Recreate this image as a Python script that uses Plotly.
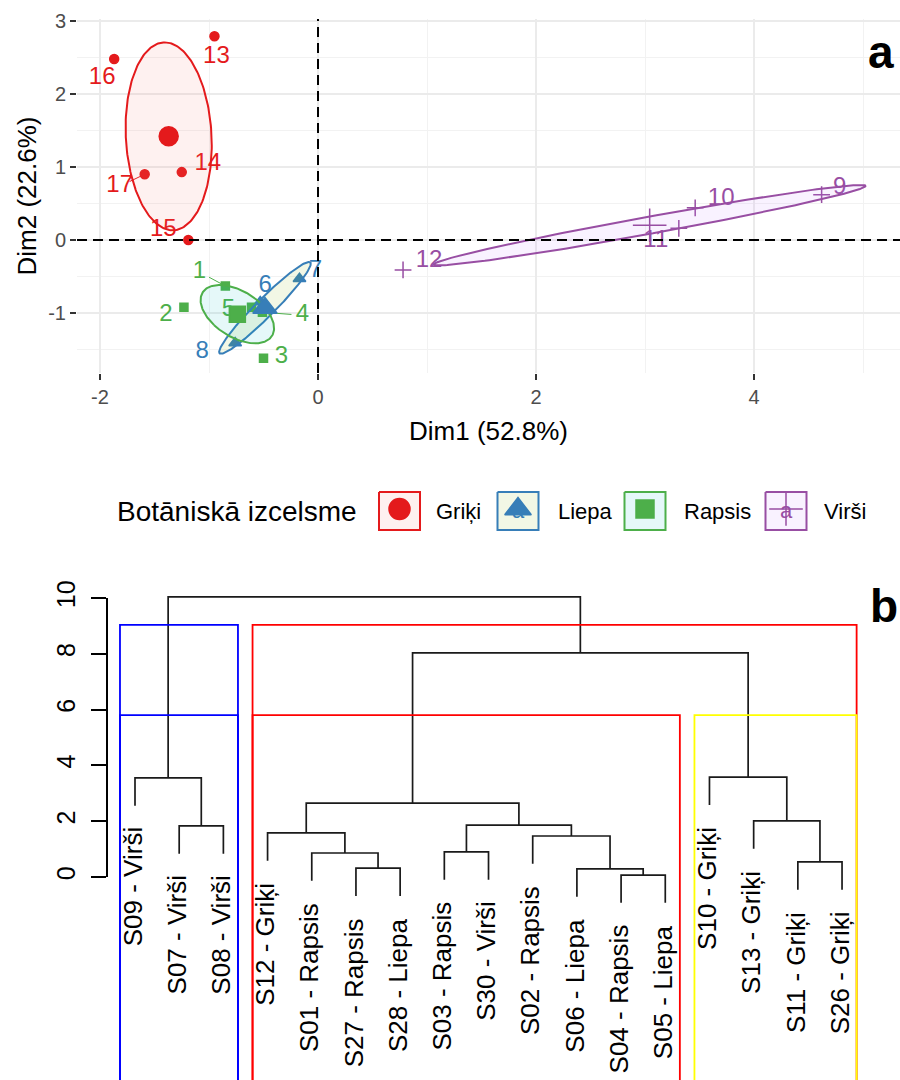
import numpy as np
import plotly.graph_objects as go

# ---------------- PCA individuals (panel a) ----------------
groups = ["Griķi", "Liepa", "Rapsis", "Virši"]
ids = {
    "Rapsis": [1, 2, 3, 4, 5],
    "Liepa": [6, 7, 8],
    "Virši": [9, 10, 11, 12],
    "Griķi": [13, 14, 15, 16, 17],
}
dim1 = {
    "Rapsis": [-0.85, -1.23, -0.50, -0.51, -0.61],
    "Liepa": [-0.53, -0.17, -0.76],
    "Virši": [4.62, 3.46, 3.31, 0.78],
    "Griķi": [-0.95, -1.25, -1.19, -1.87, -1.59],
}
dim2 = {
    "Rapsis": [-0.63, -0.92, -1.62, -0.99, -0.92],
    "Liepa": [-0.85, -0.53, -1.41],
    "Virši": [0.62, 0.44, 0.16, -0.41],
    "Griķi": [2.79, 0.93, 0.00, 2.48, 0.90],
}
dim_titles = ["Dim1 (52.8%)", "Dim2 (22.6%)"]
x_ticks = [-2, 0, 2, 4]
y_ticks = [-1, 0, 1, 2, 3]
legend_title = "Botāniskā izcelsme"

# ---------------- Dendrogram (panel b) ----------------
leaf_labels = [
    "S09 - Virši", "S07 - Virši", "S08 - Virši", "S12 - Griķi", "S01 - Rapsis",
    "S27 - Rapsis", "S28 - Liepa", "S03 - Rapsis", "S30 - Virši", "S02 - Rapsis",
    "S06 - Liepa", "S04 - Rapsis", "S05 - Liepa", "S10 - Griķi", "S13 - Griķi",
    "S11 - Griķi", "S26 - Griķi",
]
# hclust-style merges: negative = leaf position (1-based), positive = earlier merge
merge_a = [-12, -11, -6, -16, -5, -8, -10, -4, -2, 6, -15, 8, -1, -14, 12, 13]
merge_b = [-13, 1, -7, -17, 3, -9, 2, 5, -3, 7, 4, 10, 9, 11, 14, 15]
merge_h = [0.07, 0.29, 0.32, 0.54, 0.86, 0.90, 1.47, 1.58, 1.83, 1.86, 2.01,
           2.65, 3.55, 3.58, 8.03, 10.04]
dend_ticks = [0, 2, 4, 6, 8, 10]
rect_k = [2, 3]
rect_colors = {2: ["#0000FF", "#FF0000"], 3: ["#0000FF", "#FF0000", "#FFFF00"]}

# ---------------- styling ----------------
W, H = 900, 1080
FONT = "Liberation Sans, Arial, sans-serif"
col = {"Griķi": "#E41A1C", "Liepa": "#377EB8", "Rapsis": "#4DAF4A", "Virši": "#984EA3"}
fill = {"Griķi": "rgba(248,118,109,0.10)", "Liepa": "rgba(124,174,0,0.10)",
        "Rapsis": "rgba(0,191,196,0.10)", "Virši": "rgba(199,124,255,0.10)"}
sym = {"Griķi": "circle", "Liepa": "triangle-up", "Rapsis": "square", "Virši": "cross-thin"}
pt_size = {"Griķi": 9, "Liepa": 11, "Rapsis": 8, "Virši": 12}
mean_size = {"Griķi": 19, "Liepa": 21, "Rapsis": 16, "Virši": 24}
key_size = {"Griķi": 21, "Liepa": 23, "Rapsis": 18, "Virši": 24}
# label offsets in pixels (dx right, dy down) for the repelled point labels
lab_off = {1: (-26, -14), 2: (-18, 8), 3: (18, -1), 4: (40, 3), 5: (-23, 3),
           6: (5, -16), 7: (16, -8), 8: (-33, 9), 9: (18, -7), 10: (26, -9),
           11: (-23, 13), 12: (26, -9), 13: (2, 21), 14: (26, -8), 15: (-25, -10),
           16: (-12, 19), 17: (-25, 12)}
leader_ids = [1, 4, 17]

xa_dom = [77 / W, 1.0]
ya_dom = [1 - 373 / H, 1 - 19 / H]
xa_rng = [-2.211, 5.339]
ya_rng = [-1.822, 3.027]
ppx = (xa_dom[1] - xa_dom[0]) * W / (xa_rng[1] - xa_rng[0])
ppy = (ya_dom[1] - ya_dom[0]) * H / (ya_rng[1] - ya_rng[0])

fig = go.Figure()


def conf_ellipse(x, y, n_pts=200):
    x = np.asarray(x, float)
    y = np.asarray(y, float)
    cov = np.cov(x, y) / len(x)
    vals, vecs = np.linalg.eigh(cov)
    r = np.sqrt(5.991465)
    t = np.linspace(0, 2 * np.pi, n_pts)
    circ = np.vstack([np.cos(t), np.sin(t)])
    pts = vecs @ (np.sqrt(np.clip(vals, 0, None))[:, None] * circ) * r
    return pts[0] + x.mean(), pts[1] + y.mean()


# individual points
for g in groups:
    fig.add_trace(go.Scatter(
        x=dim1[g], y=dim2[g], mode="markers", xaxis="x", yaxis="y",
        marker=dict(symbol=sym[g], size=pt_size[g], color=col[g],
                    line=dict(color=col[g], width=1.5)),
        hoverinfo="skip"))

# leader segments and labels
for g in groups:
    for i, xv, yv in zip(ids[g], dim1[g], dim2[g]):
        dx, dy = lab_off[i]
        if i in leader_ids:
            d = np.hypot(dx, dy)
            f = max(d - 11, 0) / d
            fig.add_trace(go.Scatter(
                x=[xv, xv + dx * f / ppx], y=[yv, yv - dy * f / ppy], mode="lines",
                line=dict(color=col[g], width=1), xaxis="x", yaxis="y", hoverinfo="skip"))
    fig.add_trace(go.Scatter(
        x=[xv + lab_off[i][0] / ppx for i, xv in zip(ids[g], dim1[g])],
        y=[yv - lab_off[i][1] / ppy for i, yv in zip(ids[g], dim2[g])],
        text=[str(i) for i in ids[g]], mode="text", xaxis="x", yaxis="y",
        textfont=dict(family=FONT, size=24, color=col[g]), hoverinfo="skip"))

# confidence ellipses
for g in groups:
    ex, ey = conf_ellipse(dim1[g], dim2[g])
    fig.add_trace(go.Scatter(
        x=ex, y=ey, mode="lines", fill="toself", fillcolor=fill[g],
        line=dict(color=col[g], width=2), xaxis="x", yaxis="y", hoverinfo="skip"))

# group means
for g in groups:
    fig.add_trace(go.Scatter(
        x=[np.mean(dim1[g])], y=[np.mean(dim2[g])], mode="markers", xaxis="x", yaxis="y",
        marker=dict(symbol=sym[g], size=mean_size[g], color=col[g],
                    line=dict(color=col[g], width=1.5)),
        hoverinfo="skip"))

# ---------------- dendrogram geometry ----------------
node_x, node_h = {}, {}
hang = 0.1 * (max(merge_h) - min(merge_h))
seg_x, seg_y = [], []
leaf_end = {}


def child_pos(c, parent_h):
    if c < 0:
        lx = -c
        leaf_end[lx] = parent_h - hang
        return lx, parent_h - hang
    return node_x[c], node_h[c]


for m, (a, b, h) in enumerate(zip(merge_a, merge_b, merge_h), start=1):
    xa_, ya_ = child_pos(a, h)
    xb_, yb_ = child_pos(b, h)
    seg_x += [xa_, xa_, xb_, xb_, None]
    seg_y += [ya_, h, h, yb_, None]
    node_x[m] = (xa_ + xb_) / 2
    node_h[m] = h

fig.add_trace(go.Scatter(x=seg_x, y=seg_y, mode="lines", xaxis="x2", yaxis="y2",
                         line=dict(color="#1A1A1A", width=1.7), hoverinfo="skip"))


def leaves_of(c):
    if c < 0:
        return [-c]
    return leaves_of(merge_a[c - 1]) + leaves_of(merge_b[c - 1])


# cluster rectangles, cut between the (k-1)th and kth highest merges
hs = sorted(merge_h, reverse=True)
y_bottom = -9
for k in rect_k:
    cut = (hs[k - 2] + hs[k - 1]) / 2
    clusters = []
    for m in range(1, len(merge_h) + 1):
        for c in (merge_a[m - 1], merge_b[m - 1]):
            ch = node_h[c] if c > 0 else 0
            if merge_h[m - 1] > cut >= ch:
                clusters.append(sorted(leaves_of(c)))
    clusters.sort(key=lambda s: s[0])
    for cl, cc in zip(clusters, rect_colors[k]):
        x0, x1 = min(cl) - 0.34, max(cl) + 0.33
        fig.add_trace(go.Scatter(
            x=[x0, x0, x1, x1], y=[y_bottom, cut, cut, y_bottom], mode="lines",
            xaxis="x2", yaxis="y2", line=dict(color=cc, width=1.8), hoverinfo="skip"))

# axis carrier for the dendrogram height scale
fig.add_trace(go.Scatter(x=[None], y=[None], xaxis="x2", yaxis="y4", hoverinfo="skip"))

annotations = []
for i, lab in enumerate(leaf_labels, start=1):
    annotations.append(dict(
        x=i, y=leaf_end[i], xref="x2", yref="y2", text=lab, showarrow=False,
        textangle=-90, xanchor="center", yanchor="top", yshift=-20, xshift=-2,
        font=dict(family=FONT, size=26, color="black")))

# ---------------- legend (panel a) ----------------
key_cx = [399.5, 518, 645, 786]
key_lx = [434, 556, 682, 822]
key_cy = 511
for g, cx, lx in zip(groups, key_cx, key_lx):
    fig.add_trace(go.Scatter(
        x=[cx - 20.5, cx + 20.5, cx + 20.5, cx - 20.5, cx - 20.5],
        y=[key_cy - 19, key_cy - 19, key_cy + 19, key_cy + 19, key_cy - 19],
        mode="lines", fill="toself", fillcolor=fill[g], line=dict(color=col[g], width=2),
        xaxis="x3", yaxis="y3", hoverinfo="skip"))
    fig.add_trace(go.Scatter(
        x=[cx], y=[key_cy + 1], text=["a"], mode="text", xaxis="x3", yaxis="y3",
        textfont=dict(family=FONT, size=22, color=col[g]), hoverinfo="skip"))
    fig.add_trace(go.Scatter(
        x=[cx], y=[key_cy - 2], mode="markers", xaxis="x3", yaxis="y3",
        marker=dict(symbol=sym[g], size=key_size[g], color=col[g],
                    line=dict(color=col[g], width=1.5)), hoverinfo="skip"))
    annotations.append(dict(x=lx, y=key_cy, xref="x3", yref="y3", text=g,
                            showarrow=False, xanchor="left", yanchor="middle",
                            font=dict(family=FONT, size=22, color="black")))
annotations.append(dict(x=115, y=key_cy, xref="x3", yref="y3", text=legend_title,
                        showarrow=False, xanchor="left", yanchor="middle",
                        font=dict(family=FONT, size=28, color="black")))

# panel letters
annotations.append(dict(x=881 / W, y=1 - 52 / H, xref="paper", yref="paper", text="<b>a</b>",
                        showarrow=False, xanchor="center", yanchor="middle",
                        font=dict(family=FONT, size=46, color="black")))
annotations.append(dict(x=884 / W, y=1 - 606 / H, xref="paper", yref="paper", text="<b>b</b>",
                        showarrow=False, xanchor="center", yanchor="middle",
                        font=dict(family=FONT, size=46, color="black")))

tick_font = dict(family=FONT, size=20, color="#4D4D4D")
fig.update_layout(
    width=W, height=H, margin=dict(l=0, r=0, t=0, b=0, pad=0, autoexpand=False),
    paper_bgcolor="white", plot_bgcolor="rgba(0,0,0,0)", showlegend=False,
    font=dict(family=FONT),
    xaxis=dict(domain=xa_dom, range=xa_rng, anchor="y", tickvals=x_ticks,
               ticktext=[str(v) for v in x_ticks], automargin=False,
               ticks="outside", ticklen=6, tickwidth=1.5, tickcolor="#333333",
               tickfont=tick_font, showgrid=True, gridcolor="#EBEBEB", gridwidth=1.6,
               minor=dict(dtick=1, tick0=0, showgrid=True, gridcolor="#F2F2F2", gridwidth=1),
               zeroline=False, showline=False,
               title=dict(text=dim_titles[0], font=dict(family=FONT, size=26, color="black"),
                          standoff=14)),
    yaxis=dict(domain=ya_dom, range=ya_rng, anchor="x", tickvals=y_ticks,
               ticktext=[str(v) for v in y_ticks], automargin=False,
               ticks="outside", ticklen=6, tickwidth=1.5, tickcolor="#333333",
               tickfont=tick_font, showgrid=True, gridcolor="#EBEBEB", gridwidth=1.6,
               minor=dict(dtick=0.5, tick0=0, showgrid=True, gridcolor="#F2F2F2", gridwidth=1),
               zeroline=False, showline=False,
               title=dict(text=dim_titles[1], font=dict(family=FONT, size=26, color="black"),
                          standoff=4)),
    xaxis2=dict(domain=[0, 1], range=[1 - 135 / 44.19, 1 + 765 / 44.19], anchor="y2",
                visible=False, automargin=False),
    yaxis2=dict(domain=[0, 1 - 555 / H], range=[-(H - 877) / 27.9, (877 - 555) / 27.9],
                anchor="x2", visible=False, automargin=False),
    yaxis4=dict(domain=[(H - 877) / H, (H - 598) / H], range=[0, 10], anchor="free",
                position=107 / W, side="left", showline=True, linecolor="black", linewidth=1.5,
                ticks="outside", ticklen=15, tickwidth=1.5, tickcolor="black",
                tickvals=dend_ticks, tickangle=-90, showgrid=False, zeroline=False,
                automargin=False,
                tickfont=dict(family=FONT, size=25, color="black"), ticklabelstandoff=6),
    xaxis3=dict(domain=[0, 1], range=[0, W], anchor="y3", visible=False, automargin=False),
    yaxis3=dict(domain=[(H - 550) / H, (H - 470) / H], range=[550, 470], anchor="x3",
                visible=False, automargin=False),
    annotations=annotations,
    shapes=[
        dict(type="line", xref="x", yref="y domain", x0=0, x1=0, y0=0, y1=1,
             line=dict(color="black", width=2, dash="10px,6px")),
        dict(type="line", xref="x domain", yref="y", x0=0, x1=1, y0=0, y1=0,
             line=dict(color="black", width=2, dash="10px,6px")),
    ],
)

fig.write_html("out.html")
